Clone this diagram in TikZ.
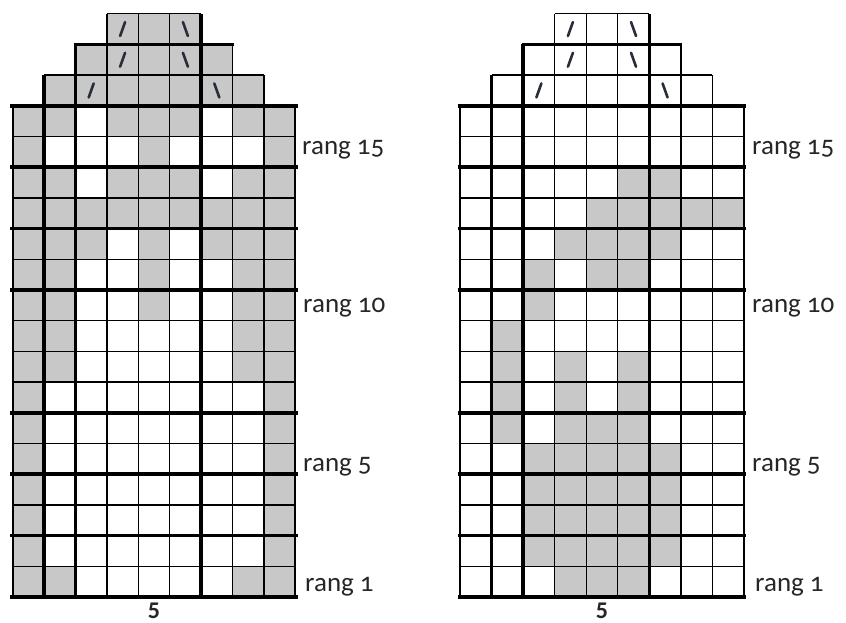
\documentclass[tikz,border=0pt]{standalone}
\usepackage{fontspec}
\setmainfont{Carlito}[Numbers=OldStyle]
\definecolor{cellgray}{RGB}{200,200,200}
\definecolor{symcol}{RGB}{40,45,60}
\tikzset{
  thinline/.style={line width=1.4pt},
  thickline/.style={line width=3.5pt},
  edgeline/.style={line width=2.2pt},
  symline/.style={line width=2.6pt, symcol, line cap=round},
  ranglabel/.style={anchor=base west, inner sep=0pt, text=black!85, font=\fontsize{27}{30}\selectfont},
  countlabel/.style={anchor=base, inner sep=0pt, text=black!85, font=\fontsize{24}{26}\selectfont\bfseries\addfontfeatures{Numbers=Lining}},
}
\newcommand\slashsym[2]{\draw[symline] ([shift={(-2.5pt,-7pt)}]#1,#2) -- ([shift={(2.5pt,7pt)}]#1,#2);}
\newcommand\bslashsym[2]{\draw[symline] ([shift={(-2.5pt,7pt)}]#1,#2) -- ([shift={(2.5pt,-7pt)}]#1,#2);}
\newcommand\chartlines{%
  \foreach \k in {0,...,16} \draw[thinline] (0,\k) -- (9,\k);
  \foreach \j in {0,...,9} \draw[thinline] (\j,0) -- (\j,16);
  \draw[thinline] (1,17) -- (8,17);
  \draw[thinline] (2,18) -- (7,18);
  \draw[thinline] (3,19) -- (6,19);
  \foreach \j in {1,...,8} \draw[thinline] (\j,16) -- (\j,17);
  \foreach \j in {2,...,7} \draw[thinline] (\j,17) -- (\j,18);
  \foreach \j in {3,...,6} \draw[thinline] (\j,18) -- (\j,19);
  \draw[edgeline] (0,0) -- (0,16);
  \draw[edgeline] (9,0) -- (9,16);
  \draw[thickline] (1,0) -- (1,17);
  \draw[thickline] (2,0) -- (2,18);
  \draw[thickline] (6,0) -- (6,19);
  \foreach \k in {0,2,4,6,10,12,14,16}
    \draw[thickline] ([xshift=-2.5pt]0,\k) -- ([xshift=2.5pt]9,\k);
  \draw[thickline] ([xshift=-1.5pt]2,18) -- ([xshift=1.5pt]7,18);
  \slashsym{3.5}{18.5}
  \slashsym{3.5}{17.5}
  \slashsym{2.5}{16.5}
  \bslashsym{5.5}{18.5}
  \bslashsym{5.5}{17.5}
  \bslashsym{6.5}{16.5}
}
\begin{document}
\begin{tikzpicture}
\useasboundingbox (0,0) rectangle (846pt,623pt);
\fill[white] (0,0) rectangle (846pt,623pt);

% left chart
\begin{scope}[shift={(12.7pt,26pt)}, x=31.4pt, y=30.7pt]
  \fill[cellgray] (1,16) rectangle (8,17);
  \fill[cellgray] (2,17) rectangle (7,18);
  \fill[cellgray] (3,18) rectangle (6,19);
  \foreach \r/\cols in {16/{1,2,4,5,6,8,9}, 15/{1,5,9}, 14/{1,2,4,5,6,8,9},
      13/{1,2,3,4,5,6,7,8,9}, 12/{1,2,3,5,7,8,9}, 11/{1,2,5,8,9}, 10/{1,2,5,8,9},
      9/{1,2,8,9}, 8/{1,2,8,9}, 7/{1,9}, 6/{1,9}, 5/{1,9}, 4/{1,9}, 3/{1,9},
      2/{1,9}, 1/{1,2,8,9}}
    \foreach \c in \cols
      \fill[cellgray] (\c-1,\r-1) rectangle (\c,\r);
  \chartlines
\end{scope}

% right chart
\begin{scope}[shift={(460pt,26pt)}, x=31.55pt, y=30.7pt]
  \foreach \r/\cols in {14/{6,7}, 13/{5,6,7,8,9}, 12/{4,5,6,7}, 11/{3,5,6},
      10/{3}, 9/{2}, 8/{2,4,6}, 7/{2,4,6}, 6/{2,4,5,6}, 5/{3,4,5,6,7},
      4/{3,4,5,6,7}, 3/{3,4,5,6,7}, 2/{3,4,5,6,7}, 1/{4,5,6}}
    \foreach \c in \cols
      \fill[cellgray] (\c-1,\r-1) rectangle (\c,\r);
  \chartlines
\end{scope}

% labels
\node[ranglabel] (l15) at (302pt,468pt) {rang 15};
\node[ranglabel] (l10) at (303pt,310pt) {rang 10};
\node[ranglabel] (l5)  at (303pt,151pt) {rang 5};
\node[ranglabel] (l1)  at (305pt,31.3pt) {rang 1};
\node[ranglabel] (r15) at (752pt,468pt) {rang 15};
\node[ranglabel] (r10) at (752pt,310pt) {rang 10};
\node[ranglabel] (r5)  at (752pt,151pt) {rang 5};
\node[ranglabel] (r1)  at (755pt,31.3pt) {rang 1};
\node[countlabel] (lc) at (154pt,4pt) {5};
\node[countlabel] (rc) at (602pt,4pt) {5};
\end{tikzpicture}
\end{document}
